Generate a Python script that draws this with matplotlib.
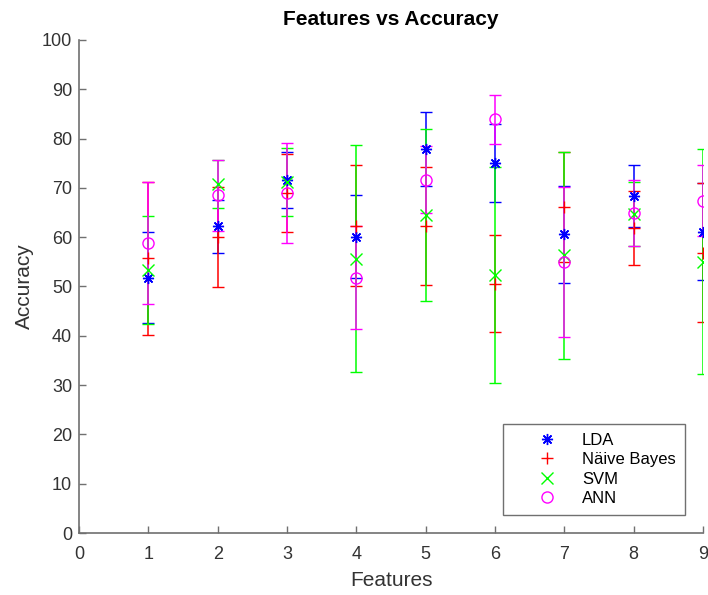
import numpy as np
import matplotlib.pyplot as plt

plt.rcParams['font.family'] = ['Liberation Sans', 'DejaVu Sans']

# Data (mean accuracy and error half-width per feature count)
features = [1, 2, 3, 4, 5, 6, 7, 8, 9]

lda_mean = [51.8, 62.2, 71.6, 60.1, 77.8, 75.1, 60.6, 68.3, 61.1]
lda_err = [9.3, 5.4, 5.7, 8.4, 7.5, 7.9, 9.8, 6.3, 9.8]

nb_mean = [55.7, 60.0, 69.0, 62.3, 62.3, 50.6, 66.1, 61.8, 56.8]
nb_err = [15.5, 10.2, 7.9, 12.3, 12.0, 9.8, 11.1, 7.5, 14.1]

svm_mean = [53.3, 70.8, 71.2, 55.6, 64.5, 52.3, 56.3, 64.7, 55.0]
svm_err = [11.0, 4.9, 6.9, 23.0, 17.4, 21.9, 21.0, 6.5, 22.8]

ann_mean = [58.8, 68.5, 69.0, 51.8, 71.7, 83.9, 55.0, 64.9, 67.4]
ann_err = [12.4, 7.2, 10.2, 10.5, 6.7, 4.9, 15.2, 6.7, 7.2]

names = ['LDA', 'Näive Bayes', 'SVM', 'ANN']
means = [lda_mean, nb_mean, svm_mean, ann_mean]
errs = [lda_err, nb_err, svm_err, ann_err]
colors = [(0, 0, 1), (1, 0, 0), (0, 1, 0), (1, 0, 1)]
markers = [(8, 2, 0), '+', 'x', 'o']

fig = plt.figure(figsize=(7.08, 5.95), dpi=100)
ax = fig.add_axes([0.1116, 0.1042, 0.8814, 0.8286])

handles = []
for name, mean, err, color, marker in zip(names, means, errs, colors, markers):
    cont = ax.errorbar(
        features, mean, yerr=err,
        linestyle='none',
        marker=marker,
        color=color,
        markerfacecolor='none',
        markeredgecolor=color,
        markersize=8,
        markeredgewidth=1.0,
        elinewidth=1.1,
        capsize=4.3,
        capthick=1.1,
        label=name
    )
    handles.append(cont[0])

ax.set_xlim(0, 9)
ax.set_ylim(0, 100)
ax.set_xticks(range(0, 10))
ax.set_yticks(range(0, 101, 10))

axis_gray = '#707070'
for side in ['top', 'right']:
    ax.spines[side].set_visible(False)
for side in ['left', 'bottom']:
    ax.spines[side].set_color(axis_gray)
    ax.spines[side].set_linewidth(1.2)
ax.tick_params(direction='in', length=5, width=1.0, color=axis_gray,
               labelsize=13, labelcolor='#333333')
ax.tick_params(axis='x', pad=9)
ax.tick_params(axis='y', pad=5)

ax.set_title('Features vs Accuracy', fontsize=15, fontweight='bold', pad=11)
ax.set_xlabel('Features', fontsize=15, color='#333333', labelpad=6)
ax.set_ylabel('Accuracy', fontsize=15, color='#333333', labelpad=6)

leg = ax.legend(
    handles, names,
    loc='lower right',
    bbox_to_anchor=(0.971, 0.0365),
    fontsize=12,
    fancybox=False,
    edgecolor='#707070',
    framealpha=1,
    handlelength=4.2,
    handletextpad=0.0,
    borderpad=0.55,
    labelspacing=0.26,
    borderaxespad=0
)
leg.get_frame().set_linewidth(1.0)

plt.savefig('out.png', dpi=100)
